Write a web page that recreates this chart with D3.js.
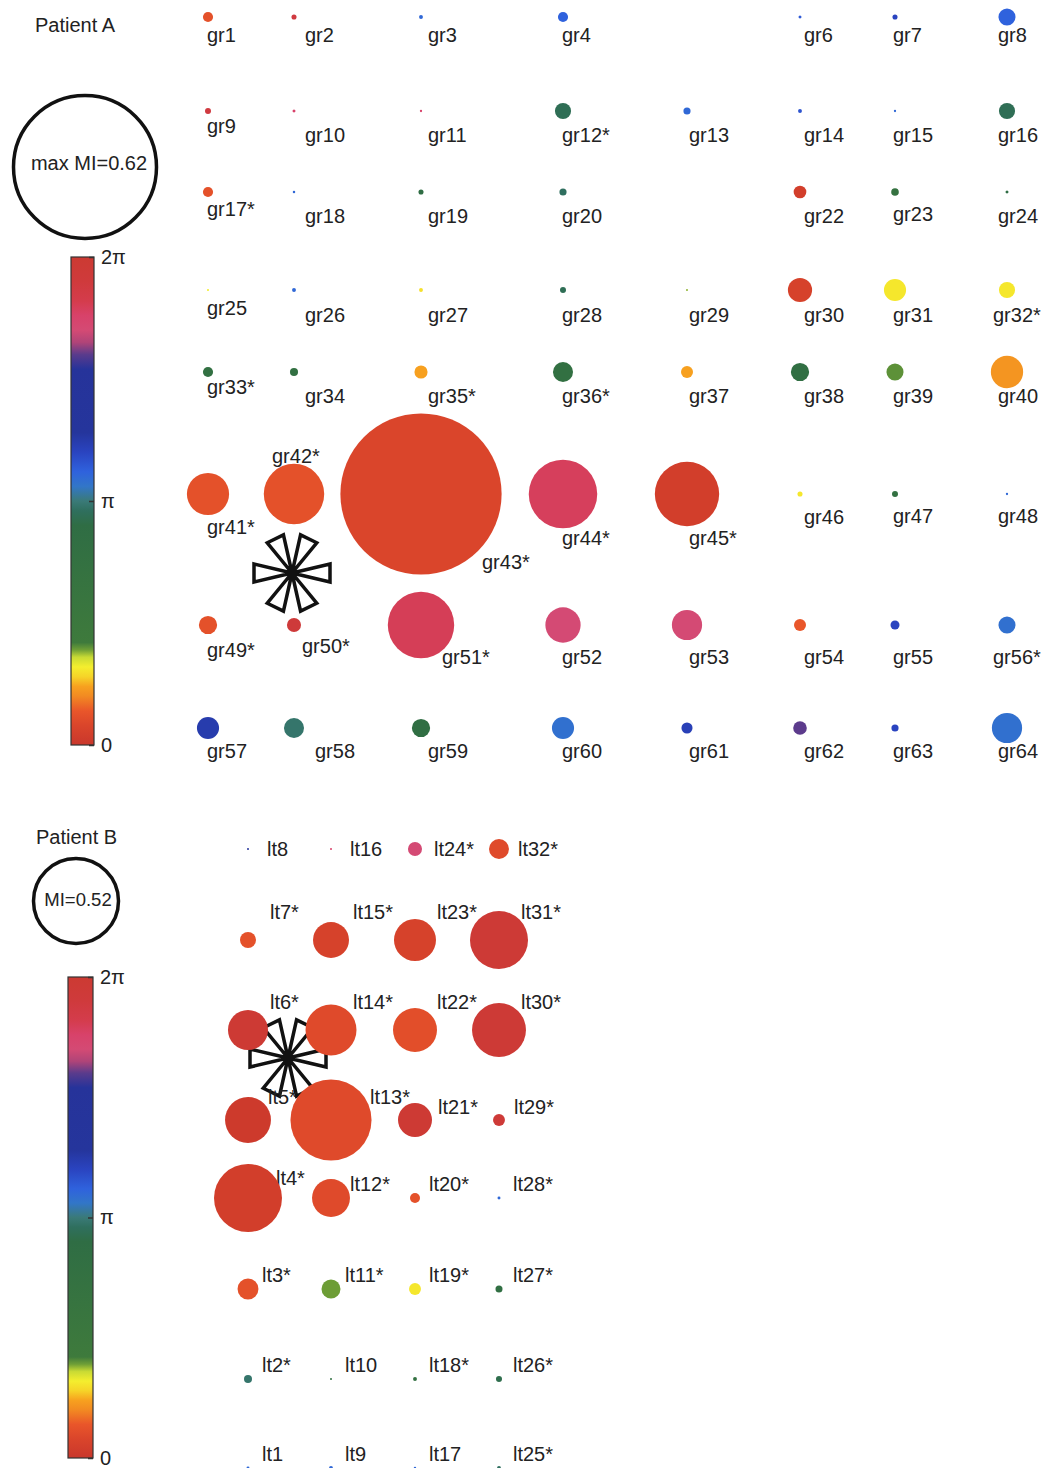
<!DOCTYPE html>
<html>
<head>
<meta charset="utf-8">
<script src="https://cdn.jsdelivr.net/npm/d3@7"></script>
<style>
  body { margin: 0; background: #fff; }
  svg { display: block; }
  text { font-family: "Liberation Sans", Arial, sans-serif; fill: #222; }
</style>
</head>
<body>
<svg id="chart" width="1045" height="1468"></svg>
<script>
// ---------- phase colour map (fraction of 2π from 0 upward) ----------
const colorStops  = [0.00, 0.04, 0.07, 0.10, 0.12, 0.14, 0.16, 0.18, 0.195, 0.21, 0.45, 0.48, 0.50, 0.53, 0.56, 0.60, 0.64, 0.77, 0.80, 0.825, 0.85, 0.88, 0.91, 0.95, 1.00];
const colorValues = ["#c9372c", "#da452b", "#e9562a", "#f28a22", "#f7a11f", "#f6d428", "#f4ee2e", "#c8da34", "#6f9f36", "#3e7a3c",
                     "#2f6d44", "#2f6f5e", "#3a7a78", "#3276c8", "#2f62dd", "#2a44c0", "#25359c", "#26339a", "#5a3b8c", "#b04478",
                     "#d44a74", "#d8426a", "#d43c4c", "#cf3a3c", "#cc3a32"];
const phaseTicks = [0, Math.PI, 2 * Math.PI];
const phaseTickLabels = ["0", "π", "2π"];

// ---------- Patient A: 8 x 8 grid (gr1..gr64), electrode coordinates in mm ----------
const gridAColumns = [0, 8.6, 21.3, 35.5, 47.9, 59.2, 68.7, 79.9];
const gridARows    = [0, 9.4, 17.5, 27.3, 35.5, 47.7, 60.8, 71.1];
const maxMiA = 0.62;
// modulation index per electrode (null = no recording)
const miA = [
  0.044, 0.022, 0.017, 0.044, null,  0.013, 0.022, 0.074,
  0.026, 0.013, 0.010, 0.070, 0.031, 0.017, 0.010, 0.070,
  0.044, 0.011, 0.022, 0.031, null,  0.055, 0.033, 0.013,
  0.009, 0.017, 0.017, 0.026, 0.009, 0.105, 0.096, 0.070,
  0.044, 0.035, 0.057, 0.087, 0.052, 0.079, 0.074, 0.140,
  0.183, 0.262, 0.699, 0.297, 0.279, 0.022, 0.026, 0.010,
  0.079, 0.061, 0.288, 0.153, 0.131, 0.052, 0.039, 0.074,
  0.096, 0.087, 0.079, 0.096, 0.048, 0.059, 0.031, 0.131
];
// preferred phase (rad)
const phaseA = [
  0.38, 5.91, 3.46, 3.52, null, 3.58, 3.77, 3.52,
  5.91, 5.53, 5.53, 2.95, 3.46, 3.64, 3.46, 2.95,
  0.38, 3.46, 2.83, 3.02, null, 0.13, 2.20, 2.83,
  1.01, 3.46, 0.94, 2.95, 1.19, 0.19, 0.97, 0.97,
  2.51, 2.51, 0.75, 2.51, 0.75, 2.64, 1.26, 0.69,
  0.38, 0.38, 0.25, 5.62, 0.13, 0.97, 2.39, 3.46,
  0.38, 6.03, 5.65, 5.34, 5.34, 0.44, 3.77, 3.39,
  3.90, 3.08, 2.70, 3.39, 3.83, 5.03, 3.77, 3.39
];
const significantA = [12, 17, 32, 33, 35, 36, 41, 42, 43, 44, 45, 49, 50, 51, 56];
const markerA = { x: 8.4, y: 55.6 };

// ---------- Patient B: 4 x 8 strip (lt1..lt32), electrode coordinates in mm ----------
const gridBColumns = [0, 8.3, 16.7, 25.1];
const gridBRows    = [0, 9.1, 18.1, 27.1, 34.9, 44.0, 53.0, 61.9];
const maxMiB = 0.52;
const miB = [
  0.018, 0.049, 0.128, 0.416, 0.281, 0.245, 0.098, 0.012,
  0.024, 0.012, 0.116, 0.232, 0.496, 0.312, 0.220, 0.012,
  0.015, 0.024, 0.073, 0.061, 0.208, 0.269, 0.257, 0.086,
  0.024, 0.037, 0.043, 0.018, 0.073, 0.330, 0.355, 0.122
];
const phaseB = [
  3.46, 3.08, 0.38, 0.13, 0.06, 6.22, 0.38, 4.27,
  3.46, 2.51, 1.23, 0.31, 0.31, 0.31, 0.19, 5.53,
  3.46, 2.39, 0.97, 0.38, 6.22, 0.35, 0.19, 5.34,
  3.02, 2.89, 2.64, 3.46, 6.09, 6.16, 6.16, 0.31
];
const nonSignificantB = [1, 8, 9, 10, 16, 17];
const markerB = { x: 4.0, y: 20.9 };

// ---------- drawing ----------
const TAU = 2 * Math.PI;
const svg = d3.select("#chart");
const defs = svg.append("defs");

const phaseColor = d3.scaleLinear()
  .domain(colorStops.map(f => f * TAU))
  .range(colorValues)
  .clamp(true);

function colorbar(id, x, y, w, h) {
  const grad = defs.append("linearGradient")
    .attr("id", id).attr("x1", 0).attr("y1", 1).attr("x2", 0).attr("y2", 0);
  grad.selectAll("stop").data(colorStops).join("stop")
    .attr("offset", d => d)
    .attr("stop-color", (d, i) => colorValues[i]);
  const g = svg.append("g");
  g.append("rect").attr("x", x).attr("y", y).attr("width", w).attr("height", h)
    .attr("fill", `url(#${id})`).attr("stroke", "#333").attr("stroke-width", 1.2);
  const scale = d3.scaleLinear().domain([0, TAU]).range([y + h, y]);
  const axis = d3.axisRight(scale)
    .tickValues(phaseTicks)
    .tickFormat((d, i) => phaseTickLabels[i])
    .tickSize(-5).tickPadding(7);
  const ag = g.append("g").attr("transform", `translate(${x + w},0)`).call(axis);
  ag.select(".domain").remove();
  ag.selectAll(".tick line").attr("stroke", "#333").attr("stroke-width", 1.5);
  ag.selectAll("text").attr("font-size", 20).attr("fill", "#222")
    .attr("font-family", "Liberation Sans, Arial, sans-serif");
}

function legendCircle(cx, cy, r, label, tx, ty, fs) {
  svg.append("circle").attr("cx", cx).attr("cy", cy).attr("r", r)
    .attr("fill", "none").attr("stroke", "#111").attr("stroke-width", 3.5);
  svg.append("text").attr("x", tx).attr("y", ty).attr("dy", "0.35em")
    .attr("text-anchor", "middle").attr("font-size", fs).text(label);
}

function asterisk(cx, cy) {
  const L = 38, half = 9;
  const angles = [0, 64, 116, 180, 244, 296];
  const path = d3.path();
  angles.forEach(a => {
    const t = a * Math.PI / 180;
    const ux = Math.cos(t), uy = -Math.sin(t);
    const px = -uy, py = ux;
    path.moveTo(cx, cy);
    path.lineTo(cx + L * ux + half * px, cy + L * uy + half * py);
    path.lineTo(cx + L * ux - half * px, cy + L * uy - half * py);
    path.closePath();
  });
  svg.append("path").attr("d", path.toString())
    .attr("fill", "#fff").attr("stroke", "#111").attr("stroke-width", 3.5)
    .attr("stroke-linejoin", "miter");
}

// ---------- Patient A ----------
svg.append("text").attr("x", 35).attr("y", 25).attr("dy", "0.35em").attr("font-size", 20).text("Patient A");
const rA = d3.scaleLinear().domain([0, maxMiA]).range([0, 71.5]);
legendCircle(85, 167, rA(maxMiA), `max MI=${maxMiA}`, 89, 163, 20);
colorbar("phaseGradA", 71, 257, 23, 488);

const xA = d3.scaleLinear().domain([0, 79.9]).range([208, 1007]);
const yA = d3.scaleLinear().domain([0, 71.1]).range([17, 728]);

asterisk(xA(markerA.x), yA(markerA.y));

const elecA = miA.map((mi, i) => ({
  n: i + 1, mi, phase: phaseA[i],
  col: i % 8, row: Math.floor(i / 8),
  sig: significantA.includes(i + 1)
}));

svg.append("g").selectAll("circle")
  .data(elecA.filter(d => d.mi !== null)).join("circle")
  .attr("cx", d => xA(gridAColumns[d.col]))
  .attr("cy", d => yA(gridARows[d.row]))
  .attr("r", d => rA(d.mi))
  .attr("fill", d => phaseColor(d.phase));

// label placement around each contact
const labelDxA = [-1, 11, 7, -1, 2, 4, -2, -9];
const labelDyA = [18, 24, 24, 25, 24, 23, 32, 23];
const labelNudgeA = {
  9: { dy: 15 }, 17: { dy: 17 }, 23: { dy: 22 }, 25: { dy: 18 }, 32: { dx: -14 }, 33: { dy: 15 },
  41: { dy: 33 }, 42: { dx: -22, dy: -38 }, 43: { dx: 61, dy: 68 }, 44: { dy: 44 }, 45: { dy: 44 },
  47: { dy: 22 }, 48: { dy: 22 }, 49: { dy: 25 }, 50: { dx: 8, dy: 21 }, 51: { dx: 21 }, 56: { dx: -14 }, 58: { dx: 21 }
};
svg.append("g").selectAll("text")
  .data(elecA.filter(d => d.mi !== null)).join("text")
  .attr("x", d => xA(gridAColumns[d.col]) + ((labelNudgeA[d.n] || {}).dx ?? labelDxA[d.col]))
  .attr("y", d => yA(gridARows[d.row]) + ((labelNudgeA[d.n] || {}).dy ?? labelDyA[d.row]))
  .attr("dy", "0.35em")
  .attr("font-size", 20)
  .text(d => `gr${d.n}${d.sig ? "*" : ""}`);

// ---------- Patient B ----------
svg.append("text").attr("x", 36).attr("y", 837).attr("dy", "0.35em").attr("font-size", 20).text("Patient B");
const rB = d3.scaleLinear().domain([0, maxMiB]).range([0, 42.5]);
legendCircle(76, 901, rB(maxMiB), `MI=${maxMiB}`, 78, 900, 18.5);
colorbar("phaseGradB", 68, 977, 25, 481);

const xB = d3.scaleLinear().domain([0, 25.1]).range([248, 499]);
const yB = d3.scaleLinear().domain([0, 61.9]).range([849, 1468]);

asterisk(xB(markerB.x), yB(markerB.y));

const elecB = miB.map((mi, i) => ({
  n: i + 1, mi, phase: phaseB[i],
  col: Math.floor(i / 8), row: 7 - (i % 8),
  sig: !nonSignificantB.includes(i + 1)
}));

const labelNudgeB = {
  5: { dx: 20, dy: -23 }, 13: { dx: 39, dy: -23 }, 21: { dx: 23, dy: -13 }, 29: { dx: 15, dy: -13 },
  4: { dx: 28, dy: -20 }, 12: { dx: 19, dy: -14 }
};
function labelOffsetB(d) {
  if (labelNudgeB[d.n]) return labelNudgeB[d.n];
  if (d.row === 0) return { dx: 19, dy: 0 };
  if (d.row === 1 || d.row === 2) return { dx: 22, dy: -28 };
  return { dx: 14, dy: -14 };
}
svg.append("g").selectAll("text")
  .data(elecB).join("text")
  .attr("x", d => xB(gridBColumns[d.col]) + labelOffsetB(d).dx)
  .attr("y", d => yB(gridBRows[d.row]) + labelOffsetB(d).dy)
  .attr("dy", "0.35em")
  .attr("font-size", 20)
  .text(d => `lt${d.n}${d.sig ? "*" : ""}`);

svg.append("g").selectAll("circle")
  .data(elecB).join("circle")
  .attr("cx", d => xB(gridBColumns[d.col]))
  .attr("cy", d => yB(gridBRows[d.row]))
  .attr("r", d => rB(d.mi))
  .attr("fill", d => phaseColor(d.phase));
</script>
</body>
</html>
